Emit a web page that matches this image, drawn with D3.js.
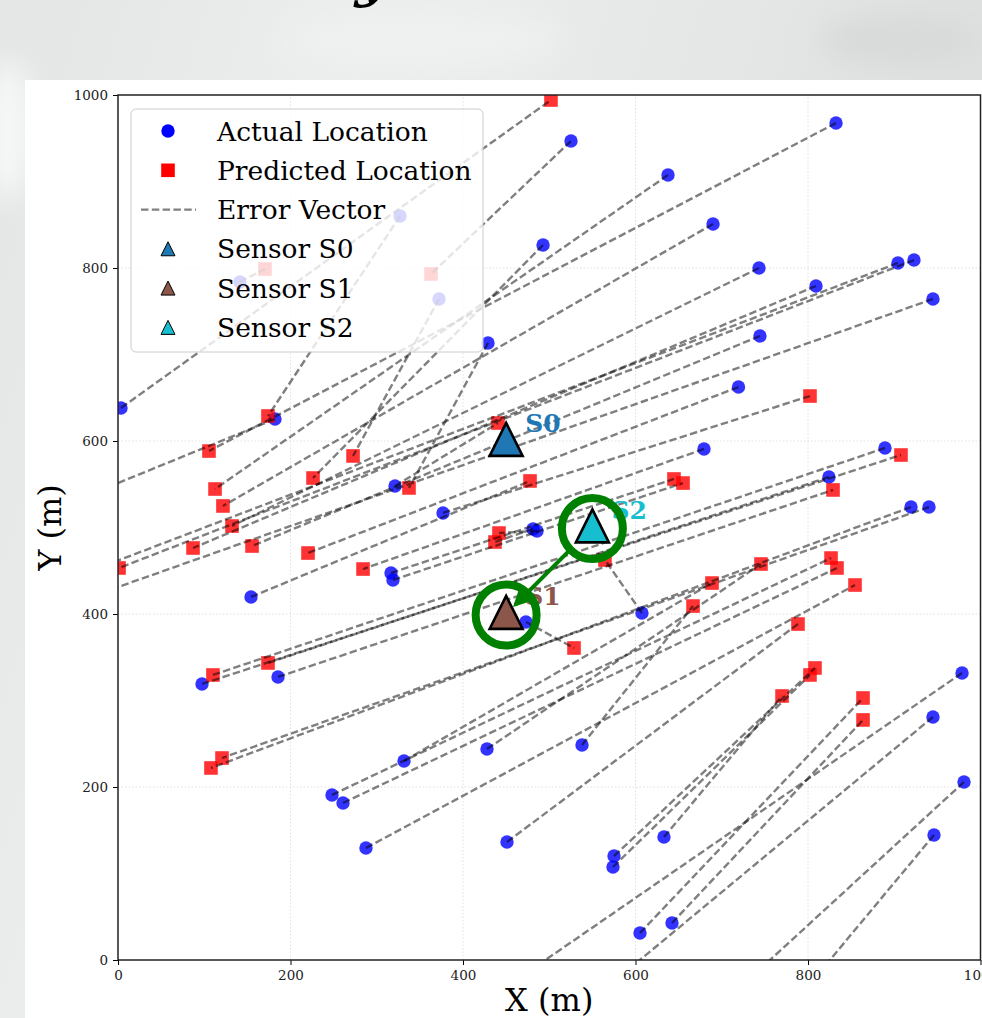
<!DOCTYPE html>
<html>
<head>
<meta charset="utf-8">
<script src="https://cdn.jsdelivr.net/npm/d3@7"></script>
<style>
  html, body { margin: 0; padding: 0; background: #e6e8e8; overflow: hidden; }
  svg { display: block; font-family: 'DejaVu Serif', serif; }
</style>
</head>
<body>
<svg id="chart" width="982" height="1018"></svg>
<script>
// actual (blue) vs predicted (red) positions, metres
const actualX = [3.5, 525.2, 637.7, 832.5, 689.9, 492.8, 743.2, 809.3, 904.3, 922.9,
  944.9, 744.3, 429.0, 719.4, 182.0, 679.4, 889.3, 824.3, 321.2, 376.8,
  481.2, 485.8, 919.4, 940.3, 154.2, 316.5, 318.8, 473.0, 607.5, 97.4,
  185.5, 978.6, 944.9, 538.0, 427.8, 331.6, 248.1, 260.9, 451.0, 287.5,
  575.1, 573.9, 633.0, 946.1, 980.9, 605.2, 642.3, 327.0, 372.2, 141.4];
const actualY = [638.2, 946.8, 907.5, 967.6, 850.9, 826.6, 800.0, 779.2, 805.8, 809.2,
  764.2, 721.4, 713.3, 662.4, 625.4, 590.8, 591.9, 558.4, 548.0, 516.8,
  498.3, 496.0, 523.7, 523.7, 419.7, 447.4, 439.3, 390.8, 401.2, 319.1,
  327.2, 331.8, 280.9, 248.6, 243.9, 230.1, 190.8, 181.5, 136.4, 129.5,
  120.2, 107.5, 142.2, 144.5, 205.8, 31.2, 42.8, 860.1, 764.2, 783.8];
const predX = [502.0, 362.9, 112.5, 105.5, 121.7, 226.1, 132.2, 87.0, -60, 1.2,
  -60, 155.4, 337.4, 220.3, -60, 284.1, 110.1, 173.9, 440.6, 802.3,
  437.1, 441.7, 107.8, 120.6, 477.7, 644.6, 655.1, 528.7, 564.6, 907.8,
  829.0, 443, 570, 666.7, 745.5, 688.7, 826.7, 833.6, 788.4, 854.5,
  808.1, 802.3, 769.9, 802, 721, 863.8, 863.8, 173.9, 272.5, 170.4];
const predY = [994.2, 793.1, 544.5, 588.4, 524.9, 557.2, 501.7, 476.3, 439, 453.2,
  410, 478.6, 545.7, 470.5, 527, 452.0, 329.5, 343.4, 620.8, 652.0,
  483.2, 493.6, 222.0, 233.5, 553.8, 556.1, 551.4, 360.7, 462.4, 583.8,
  543.4, -36, -29, 409.2, 457.8, 435.8, 464.7, 453.2, 388.4, 433.5,
  337.6, 329.5, 305.2, -28, -32, 302.9, 277.5, 628.9, 582.7, 798.8];

const sensorNames = ['S0', 'S1', 'S2'];
const sensorX = [450, 450, 550];
const sensorY = [600, 400, 500];
const highlighted = ['S1', 'S2'];   // circled, arrow S2 -> S1

const xTicks = [0, 200, 400, 600, 800, 1000];
const yTicks = [0, 200, 400, 600, 800, 1000];

const SENSOR_COLORS = { S0: '#1f77b4', S1: '#8c564b', S2: '#17becf' };

const svg = d3.select('#chart');
const W = 982, H = 1018;

// ---- background (blurred grey photo look) ----
const defs = svg.append('defs');
const bg = defs.append('linearGradient').attr('id', 'bg').attr('x1', 0).attr('x2', 1).attr('y1', 0).attr('y2', 0.3);
bg.append('stop').attr('offset', '0%').attr('stop-color', '#e4e6e6');
bg.append('stop').attr('offset', '35%').attr('stop-color', '#eceeee');
bg.append('stop').attr('offset', '65%').attr('stop-color', '#e6e8e8');
bg.append('stop').attr('offset', '100%').attr('stop-color', '#dcdede');
defs.append('filter').attr('id', 'blur').append('feGaussianBlur').attr('stdDeviation', 14);

svg.append('rect').attr('width', W).attr('height', H).attr('fill', 'url(#bg)');
const blobs = svg.append('g').attr('filter', 'url(#blur)');
blobs.append('ellipse').attr('cx', 8).attr('cy', 130).attr('rx', 22).attr('ry', 70).attr('fill', '#f7f8f8');
blobs.append('ellipse').attr('cx', 420).attr('cy', 40).attr('rx', 140).attr('ry', 30).attr('fill', '#eff1f1');
blobs.append('ellipse').attr('cx', 900).attr('cy', 40).attr('rx', 80).attr('ry', 25).attr('fill', '#d8dada');

// title (only its descender survives the crop)
svg.append('text')
  .attr('x', 372).attr('y', -5)
  .attr('text-anchor', 'middle')
  .style('font-size', '60px').style('font-weight', 'bold').style('font-style', 'italic')
  .text('y');

// white figure panel
svg.append('rect').attr('x', 25).attr('y', 80).attr('width', W - 25).attr('height', H - 80).attr('fill', '#fff');

// ---- scales ----
const x = d3.scaleLinear().domain([0, 1000]).range([118, 980.5]);
const y = d3.scaleLinear().domain([0, 1000]).range([960, 95]);

defs.append('clipPath').attr('id', 'plotClip')
  .append('rect')
  .attr('x', x(0)).attr('y', y(1000))
  .attr('width', x(1000) - x(0)).attr('height', y(0) - y(1000));

// grid
const grid = svg.append('g').attr('class', 'grid');
grid.selectAll('.gx').data(xTicks.slice(1, -1)).join('line')
  .attr('x1', d => x(d)).attr('x2', d => x(d))
  .attr('y1', y(0)).attr('y2', y(1000))
  .attr('stroke', '#d8d8d8').attr('stroke-width', 0.8).attr('stroke-dasharray', '1.5,2');
grid.selectAll('.gy').data(yTicks.slice(1, -1)).join('line')
  .attr('x1', x(0)).attr('x2', x(1000))
  .attr('y1', d => y(d)).attr('y2', d => y(d))
  .attr('stroke', '#d8d8d8').attr('stroke-width', 0.8).attr('stroke-dasharray', '1.5,2');

// ---- points & error vectors ----
const pairs = actualX.map((ax, i) => ({ ax, ay: actualY[i], px: predX[i], py: predY[i] }));
const plot = svg.append('g').attr('clip-path', 'url(#plotClip)');

plot.selectAll('.actual').data(pairs).join('circle')
  .attr('class', 'actual')
  .attr('cx', d => x(d.ax)).attr('cy', d => y(d.ay)).attr('r', 6.7)
  .attr('fill', 'blue').attr('opacity', 0.8);

plot.selectAll('.pred').data(pairs).join('rect')
  .attr('class', 'pred')
  .attr('x', d => x(d.px) - 6.8).attr('y', d => y(d.py) - 6.8)
  .attr('width', 13.6).attr('height', 13.6)
  .attr('fill', 'red').attr('opacity', 0.8);

plot.selectAll('.err').data(pairs).join('line')
  .attr('class', 'err')
  .attr('x1', d => x(d.ax)).attr('y1', d => y(d.ay))
  .attr('x2', d => x(d.px)).attr('y2', d => y(d.py))
  .attr('stroke', '#000').attr('stroke-opacity', 0.5)
  .attr('stroke-width', 2.4).attr('stroke-dasharray', '7.5,3.3');

// ---- axes ----
const axisFont = g => g.selectAll('text')
  .style('font-family', "'DejaVu Serif', serif").style('font-size', '13.5px').attr('fill', '#222');

svg.append('g')
  .attr('transform', `translate(0,${y(0)})`)
  .call(d3.axisBottom(x).tickValues(xTicks).tickSize(5).tickPadding(5).tickFormat(d3.format('d')))
  .call(g => g.select('.domain').remove())
  .call(axisFont);

svg.append('g')
  .attr('transform', `translate(${x(0)},0)`)
  .call(d3.axisLeft(y).tickValues(yTicks).tickSize(5).tickPadding(5).tickFormat(d3.format('d')))
  .call(g => g.select('.domain').remove())
  .call(axisFont);

// spines
const spines = svg.append('g').attr('stroke', '#222').attr('stroke-width', 1.5).attr('fill', 'none');
spines.append('rect')
  .attr('x', x(0)).attr('y', y(1000))
  .attr('width', x(1000) - x(0)).attr('height', y(0) - y(1000));

svg.append('text')
  .attr('x', (x(0) + x(1000)) / 2).attr('y', 1011)
  .attr('text-anchor', 'middle').style('font-size', '32px')
  .text('X (m)');
svg.append('text')
  .attr('transform', `translate(61,${(y(0) + y(1000)) / 2}) rotate(-90)`)
  .attr('text-anchor', 'middle').style('font-size', '32px')
  .text('Y (m)');

// ---- sensors ----
const tri = s => `M0,${-s * 0.58}L${s * 0.5},${s * 0.42}L${-s * 0.5},${s * 0.42}Z`;
const sensors = sensorNames.map((name, i) => ({ name, sx: sensorX[i], sy: sensorY[i] }));

svg.selectAll('.sensor').data(sensors).join('path')
  .attr('class', 'sensor')
  .attr('transform', d => `translate(${x(d.sx)},${y(d.sy) + 1})`)
  .attr('d', tri(33))
  .attr('fill', d => SENSOR_COLORS[d.name])
  .attr('stroke', '#000').attr('stroke-width', 2.6).attr('stroke-linejoin', 'miter');

svg.selectAll('.sensor-label').data(sensors).join('text')
  .attr('class', 'sensor-label')
  .attr('x', d => x(d.sx) + 19).attr('y', d => y(d.sy) - 9)
  .style('font-size', '25px').style('font-weight', 'bold')
  .attr('fill', d => SENSOR_COLORS[d.name])
  .text(d => d.name);

// highlight rings + arrow
const hl = sensors.filter(d => highlighted.includes(d.name));
svg.selectAll('.ring').data(hl).join('circle')
  .attr('class', 'ring')
  .attr('cx', d => x(d.sx)).attr('cy', d => y(d.sy) + 1)
  .attr('r', 30.5)
  .attr('fill', 'none').attr('stroke', 'green').attr('stroke-width', 8);

defs.append('marker')
  .attr('id', 'arrow').attr('viewBox', '0 0 10 10')
  .attr('refX', 8).attr('refY', 5)
  .attr('markerWidth', 4).attr('markerHeight', 4)
  .attr('orient', 'auto')
  .append('path').attr('d', 'M0,0L10,5L0,10Z').attr('fill', 'green');

const from = hl.find(d => d.name === 'S2'), to = hl.find(d => d.name === 'S1');
const fx = x(from.sx), fy = y(from.sy), tx = x(to.sx), ty = y(to.sy);
const len = Math.hypot(tx - fx, ty - fy), ux = (tx - fx) / len, uy = (ty - fy) / len;
svg.append('line')
  .attr('x1', fx + ux * 31).attr('y1', fy + uy * 31)
  .attr('x2', tx - ux * 13).attr('y2', ty - uy * 13)
  .attr('stroke', 'green').attr('stroke-width', 4)
  .attr('marker-end', 'url(#arrow)');

// ---- legend ----
const legend = svg.append('g').attr('transform', 'translate(131,109)');
legend.append('rect')
  .attr('width', 352).attr('height', 243).attr('rx', 5)
  .attr('fill', '#fff').attr('fill-opacity', 0.8)
  .attr('stroke', '#cccccc').attr('stroke-width', 1);

const legendItems = ['Actual Location', 'Predicted Location', 'Error Vector', 'Sensor S0', 'Sensor S1', 'Sensor S2'];
const rowY = i => 22 + i * 39.3;
legendItems.forEach((label, i) => {
  const row = legend.append('g').attr('transform', `translate(0,${rowY(i)})`);
  if (i === 0) {
    row.append('circle').attr('cx', 37).attr('r', 6.7).attr('fill', 'blue');
  } else if (i === 1) {
    row.append('rect').attr('x', 30.2).attr('y', -6.8).attr('width', 13.6).attr('height', 13.6).attr('fill', 'red');
  } else if (i === 2) {
    row.append('line').attr('x1', 10).attr('x2', 65)
      .attr('stroke', '#000').attr('stroke-opacity', 0.5)
      .attr('stroke-width', 2.4).attr('stroke-dasharray', '7.5,3.3');
  } else {
    row.append('path')
      .attr('transform', 'translate(37,1)')
      .attr('d', tri(14))
      .attr('fill', SENSOR_COLORS[sensorNames[i - 3]])
      .attr('stroke', '#000').attr('stroke-width', 1);
  }
  row.append('text')
    .attr('x', 86).attr('y', 9.5)
    .style('font-size', '26.5px')
    .text(label);
});
</script>
</body>
</html>
